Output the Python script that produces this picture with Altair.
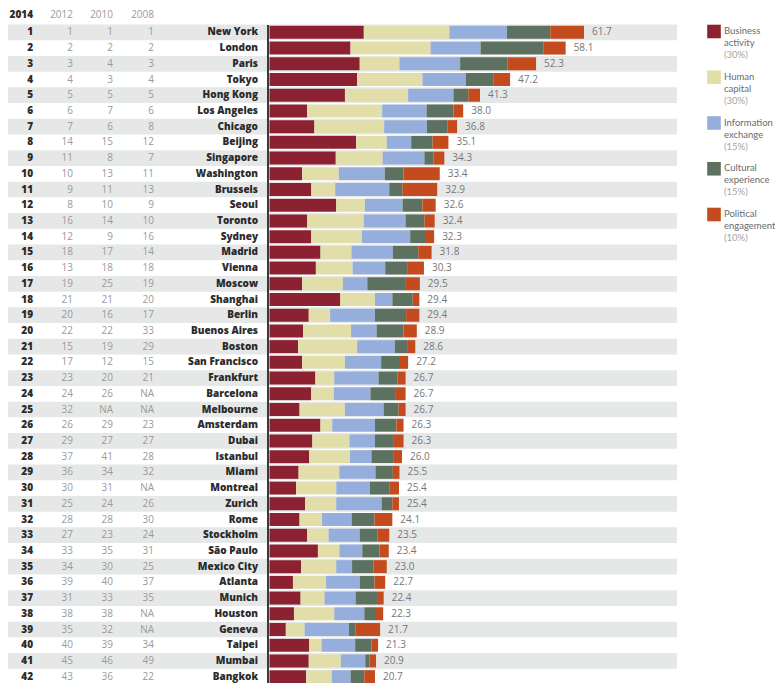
import altair as alt
import pandas as pd

cities = ["New York", "London", "Paris", "Tokyo", "Hong Kong", "Los Angeles", "Chicago",
          "Beijing", "Singapore", "Washington", "Brussels", "Seoul", "Toronto", "Sydney",
          "Madrid", "Vienna", "Moscow", "Shanghai", "Berlin", "Buenos Aires", "Boston",
          "San Francisco", "Frankfurt", "Barcelona", "Melbourne", "Amsterdam", "Dubai",
          "Istanbul", "Miami", "Montreal", "Zurich", "Rome", "Stockholm", "São Paulo",
          "Mexico City", "Atlanta", "Munich", "Houston", "Geneva", "Taipei", "Mumbai", "Bangkok"]
rank_2014 = [str(i) for i in range(1, 43)]
rank_2012 = ["1", "2", "3", "4", "5", "6", "7", "14", "11", "10", "9", "8", "16", "12", "18", "13",
             "19", "21", "20", "22", "15", "17", "23", "24", "32", "26", "29", "37", "36", "30",
             "25", "28", "27", "33", "34", "39", "31", "38", "35", "40", "45", "43"]
rank_2010 = ["1", "2", "4", "3", "5", "7", "6", "15", "8", "13", "11", "10", "14", "9", "17", "18",
             "25", "21", "16", "22", "19", "12", "20", "26", "NA", "29", "27", "41", "34", "31",
             "24", "28", "23", "35", "30", "40", "33", "38", "32", "39", "46", "36"]
rank_2008 = ["1", "2", "3", "4", "5", "6", "8", "12", "7", "11", "13", "9", "10", "16", "14", "18",
             "19", "20", "17", "33", "29", "15", "21", "NA", "NA", "23", "27", "28", "32", "NA",
             "26", "30", "24", "31", "25", "37", "35", "NA", "NA", "34", "49", "22"]

business = [18.5, 15.9, 17.7, 17.2, 14.8, 7.4, 8.8, 17.0, 13.0, 6.4, 8.2, 13.1, 7.4, 8.2, 10.0,
            9.1, 6.4, 13.9, 7.7, 6.6, 5.6, 6.4, 9.0, 8.2, 5.9, 10.0, 8.4, 7.8, 5.7, 5.2, 7.0,
            5.9, 7.4, 9.5, 6.2, 4.6, 6.1, 4.8, 3.2, 7.8, 7.7, 7.2]
human = [16.8, 15.7, 7.8, 12.8, 12.4, 14.7, 13.7, 6.0, 9.2, 7.2, 4.7, 5.6, 11.1, 9.9, 6.1, 7.2,
         8.0, 6.8, 4.2, 9.4, 11.6, 8.4, 3.7, 4.4, 8.9, 2.3, 7.3, 8.0, 8.0, 7.9, 6.1, 4.4, 4.2,
         4.2, 6.9, 6.5, 4.7, 7.9, 3.7, 2.4, 6.3, 5.0]
info = [11.3, 9.8, 11.9, 8.5, 8.9, 8.7, 8.4, 4.8, 8.2, 9.0, 10.6, 7.4, 8.2, 9.5, 8.1, 6.4, 4.8,
        3.4, 8.8, 5.0, 7.4, 7.1, 8.7, 7.2, 7.6, 8.4, 5.0, 4.2, 7.1, 6.6, 8.9, 5.8, 6.1, 4.5,
        3.1, 6.6, 6.1, 5.9, 8.7, 6.6, 4.8, 3.7]
cultural = [8.5, 12.3, 9.3, 5.5, 2.9, 5.3, 4.0, 4.2, 1.8, 3.7, 2.6, 3.9, 3.7, 3.1, 5.0, 4.3, 7.4,
            4.0, 6.1, 5.3, 2.4, 3.7, 3.7, 5.0, 2.9, 4.2, 3.7, 4.4, 3.4, 3.9, 2.1, 4.5, 3.5, 3.4,
            4.2, 2.9, 4.2, 2.1, 1.3, 3.2, 0.8, 2.7]
political = [6.6, 4.4, 5.6, 3.2, 2.3, 1.9, 1.9, 3.1, 2.1, 7.1, 6.8, 2.6, 2.0, 1.6, 2.6, 3.3, 2.9,
             1.3, 2.6, 2.6, 1.6, 1.6, 1.6, 1.9, 1.4, 1.4, 1.9, 1.6, 1.3, 1.8, 1.3, 3.5, 2.3, 1.8,
             2.6, 2.1, 1.3, 1.6, 4.8, 1.3, 1.3, 2.1]
totals = [61.7, 58.1, 52.3, 47.2, 41.3, 38.0, 36.8, 35.1, 34.3, 33.4, 32.9, 32.6, 32.4, 32.3,
          31.8, 30.3, 29.5, 29.4, 29.4, 28.9, 28.6, 27.2, 26.7, 26.7, 26.7, 26.3, 26.3, 26.0,
          25.5, 25.4, 25.4, 24.1, 23.5, 23.4, 23.0, 22.7, 22.4, 22.3, 21.7, 21.3, 20.9, 20.7]

categories = ["Business activity", "Human capital", "Information exchange",
              "Cultural experience", "Political engagement"]
legend_text = ["Business\nactivity", "Human\ncapital", "Information\nexchange",
               "Cultural\nexperience", "Political\nengagement"]
weights = ["(30%)", "(30%)", "(15%)", "(15%)", "(10%)"]
colors = ["#8C2131", "#E1DEAA", "#95AEDC", "#5C715F", "#C44B1D"]
years = ["2014", "2012", "2010", "2008"]

FONT = "Open Sans"
LEG_FONT = "Lato"

wide = pd.DataFrame({
    "city": cities, "r2014": rank_2014, "r2012": rank_2012, "r2010": rank_2010,
    "r2008": rank_2008, "total": totals,
    "odd": [i % 2 == 0 for i in range(len(cities))],
})

series = [business, human, info, cultural, political]
rows = []
for ci, c in enumerate(cities):
    for k, cat in enumerate(categories):
        rows.append({"city": c, "cat": cat, "val": series[k][ci], "ord": k})
long = pd.DataFrame(rows)

yscale = alt.Scale(domain=cities, range=[16.5, 676.5], paddingInner=0, paddingOuter=0)
Y = alt.Y("city:N", scale=yscale, axis=None, sort=cities)
xscale = alt.Scale(domain=[0, 61.7], range=[261.5, 576])

bg = alt.Chart(wide).transform_filter("datum.odd").mark_rect(color="#E6E8E8").encode(
    y=Y, x=alt.value(-1), x2=alt.value(669)
)

bars = alt.Chart(long).mark_bar(size=13).encode(
    y=Y,
    x=alt.X("val:Q", stack="zero", scale=xscale, axis=None),
    color=alt.Color("cat:N", scale=alt.Scale(domain=categories, range=colors), legend=None),
    order=alt.Order("ord:Q"),
)

axis_line = alt.Chart(wide).mark_rule(color="#3a3a3a", strokeWidth=2).encode(
    x=alt.value(260), y=alt.value(17), y2=alt.value(700)
)

value_labels = alt.Chart(wide).mark_text(
    align="left", baseline="middle", dx=8, font=FONT, fontSize=10, color="#777777"
).encode(
    y=Y, x=alt.X("total:Q", scale=xscale, axis=None), text=alt.Text("total:Q", format=".1f")
)

def col_text(field, xpos, color, weight="normal"):
    return alt.Chart(wide).mark_text(
        align="right", baseline="middle", font=FONT, fontSize=10,
        color=color, fontWeight=weight
    ).encode(y=Y, x=alt.value(xpos), text=f"{field}:N")

c2014 = col_text("r2014", 25, "#2b2b2b", 800)
c2012 = col_text("r2012", 65, "#9a9a9a")
c2010 = col_text("r2010", 105, "#9a9a9a")
c2008 = col_text("r2008", 146, "#9a9a9a")
ccity = col_text("city", 250, "#2b2b2b", 800)

hdr_x = [25, 65, 105, 146]
hdr_layers = []
for i, yr in enumerate(years):
    hdr_layers.append(
        alt.Chart(pd.DataFrame({"h": [yr]})).mark_text(
            align="right", baseline="middle", font=FONT, fontSize=10,
            color="#2b2b2b" if i == 0 else "#9a9a9a",
            fontWeight=800 if i == 0 else "normal",
        ).encode(x=alt.value(hdr_x[i]), y=alt.value(7), text="h:N")
    )

leg = pd.DataFrame({"cat": categories, "lt": legend_text, "w": weights, "i": list(range(5))})
LY = alt.Y("i:Q", scale=alt.Scale(domain=[0, 4], range=[23.5, 206.5]), axis=None)
leg_sw = alt.Chart(leg).mark_square(size=185, opacity=1).encode(
    x=alt.value(706), y=LY,
    color=alt.Color("cat:N", scale=alt.Scale(domain=categories, range=colors), legend=None),
)
leg_tx = alt.Chart(leg).mark_text(
    align="left", baseline="middle", lineBreak="\n", lineHeight=12,
    font=LEG_FONT, fontSize=9.5, color="#6a6a6a", dy=-0.5
).encode(x=alt.value(716), y=LY, text="lt:N")
leg_w = alt.Chart(leg).mark_text(
    align="left", baseline="middle", font=LEG_FONT, fontSize=9.5, color="#a5a5a5", dy=23.5
).encode(x=alt.value(716), y=LY, text="w:N")

chart = alt.layer(
    bg, bars, axis_line, value_labels, c2014, c2012, c2010, c2008, ccity,
    *hdr_layers, leg_sw, leg_tx, leg_w
).resolve_scale(y="independent").properties(
    width=767, height=675, padding=0, autosize=alt.AutoSizeParams(type="none")
).configure_view(stroke=None)

chart.save("out.html", embed_options={"renderer": "svg", "actions": False})
